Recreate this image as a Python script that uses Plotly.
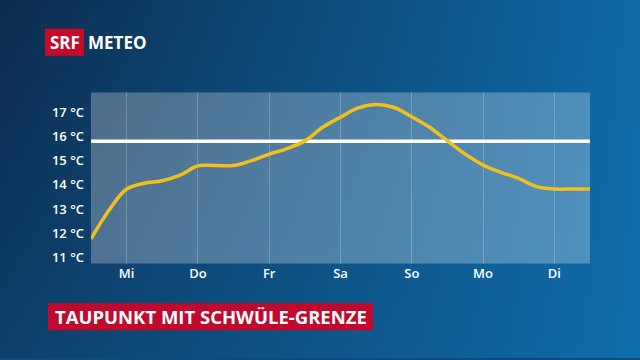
import base64, struct, zlib
import plotly.graph_objects as go

# ---------------- data ----------------
days = ["Mi", "Do", "Fr", "Sa", "So", "Mo", "Di"]
day_pos = [0, 1, 2, 3, 4, 5, 6]
t = [-0.5, -0.25, 0, 0.25, 0.5, 0.75, 1, 1.25, 1.5, 1.75, 2, 2.25, 2.5, 2.75,
     3, 3.25, 3.5, 3.75, 4, 4.25, 4.5, 4.75, 5, 5.25, 5.5, 5.75, 6, 6.25, 6.5]
dewpoint = [11.77, 12.94, 13.83, 14.07, 14.17, 14.4, 14.79, 14.8, 14.8, 15.0,
            15.27, 15.5, 15.82, 16.38, 16.8, 17.18, 17.32, 17.2, 16.82, 16.38,
            15.82, 15.27, 14.82, 14.52, 14.27, 13.93, 13.83, 13.83, 13.83]
threshold = 15.8
y_ticks = [11, 12, 13, 14, 15, 16, 17]
y_labels = [f"{v} °C" for v in y_ticks]

# ---------------- background gradient png ----------------
def make_png(w, h, corners):
    tl, tr, bl, br = corners
    raw = b""
    for j in range(h):
        fy = j / (h - 1)
        row = b"\x00"
        for i in range(w):
            fx = i / (w - 1)
            px = []
            for c in range(3):
                top = tl[c] + (tr[c] - tl[c]) * fx
                bot = bl[c] + (br[c] - bl[c]) * fx
                px.append(int(round(top + (bot - top) * fy)))
            row += bytes(px)
        raw += row
    def chunk(tag, data):
        c = struct.pack(">I", len(data)) + tag + data
        return c + struct.pack(">I", zlib.crc32(tag + data) & 0xffffffff)
    png = b"\x89PNG\r\n\x1a\n"
    png += chunk(b"IHDR", struct.pack(">IIBBBBB", w, h, 8, 2, 0, 0, 0))
    png += chunk(b"IDAT", zlib.compress(raw, 9))
    png += chunk(b"IEND", b"")
    return "data:image/png;base64," + base64.b64encode(png).decode()

bg = make_png(160, 90, [(12, 45, 78), (15, 106, 168), (14, 63, 106), (15, 109, 171)])

FONT = "Open Sans"
XD = [91/640, 590/640]
YD = [1-265/360, 1-93/360]

fig = go.Figure()
fig.add_trace(go.Scatter(
    x=[-0.5, 6.5], y=[threshold, threshold], mode="lines",
    line=dict(color="white", width=3.5), hoverinfo="skip"))
fig.add_trace(go.Scatter(
    x=t, y=dewpoint, mode="lines",
    line=dict(color="#f2bf1d", width=3.5, shape="spline", smoothing=1.0),
    hoverinfo="skip"))

fig.update_layout(
    width=640, height=360,
    margin=dict(l=0, r=0, t=0, b=0),
    paper_bgcolor="#0e4a7c",
    plot_bgcolor="rgba(0,0,0,0)",
    showlegend=False,
    images=[dict(source=bg, xref="paper", yref="paper", x=0, y=1,
                 sizex=1, sizey=1, sizing="stretch", layer="below")],
    xaxis=dict(domain=XD, range=[-0.5, 6.5],
               tickvals=day_pos, ticktext=days, showgrid=True,
               gridcolor="rgba(255,255,255,0.22)", gridwidth=1,
               zeroline=False, showline=False, ticks="",
               tickfont=dict(family=FONT, size=13, color="white", weight=600),
               fixedrange=True),
    yaxis=dict(domain=YD, range=[10.75, 17.82],
               tickvals=y_ticks, ticktext=y_labels, showgrid=False,
               zeroline=False, showline=False, ticks="",
               ticklabelstandoff=6,
               tickfont=dict(family=FONT, size=13, color="white", weight=600),
               fixedrange=True),
    shapes=[
        dict(type="rect", xref="paper", yref="paper",
             x0=XD[0], x1=XD[1], y0=YD[0], y1=YD[1],
             fillcolor="rgba(255,255,255,0.27)", line=dict(width=0), layer="below"),
        dict(type="rect", xref="paper", yref="paper",
             x0=45/640, x1=84/640, y0=1-56/360, y1=1-29/360,
             fillcolor="#c4092b", line=dict(width=0), layer="above"),
        dict(type="rect", xref="paper", yref="paper",
             x0=48/640, x1=373/640, y0=1-332/360, y1=1-305/360,
             fillcolor="#c0092c", line=dict(width=0), layer="above"),
    ],
    annotations=[
        dict(text="<b>SRF</b>", xref="paper", yref="paper",
             x=64.5/640, y=1-42.5/360, xanchor="center", yanchor="middle",
             showarrow=False, font=dict(family=FONT, size=17, color="white")),
        dict(text="<b>METEO</b>", xref="paper", yref="paper",
             x=86/640, y=1-42.5/360, xanchor="left", yanchor="middle",
             showarrow=False, font=dict(family=FONT, size=17, color="white")),
        dict(text="<b>TAUPUNKT MIT SCHWÜLE-GRENZE</b>", xref="paper", yref="paper",
             x=211/640, y=1-318.5/360, xanchor="center", yanchor="middle",
             showarrow=False, font=dict(family=FONT, size=18.5, color="white")),
    ],
)

fig.write_html("out.html", config={"displayModeBar": False, "staticPlot": True},
               post_script="document.body.style.margin='0';")
